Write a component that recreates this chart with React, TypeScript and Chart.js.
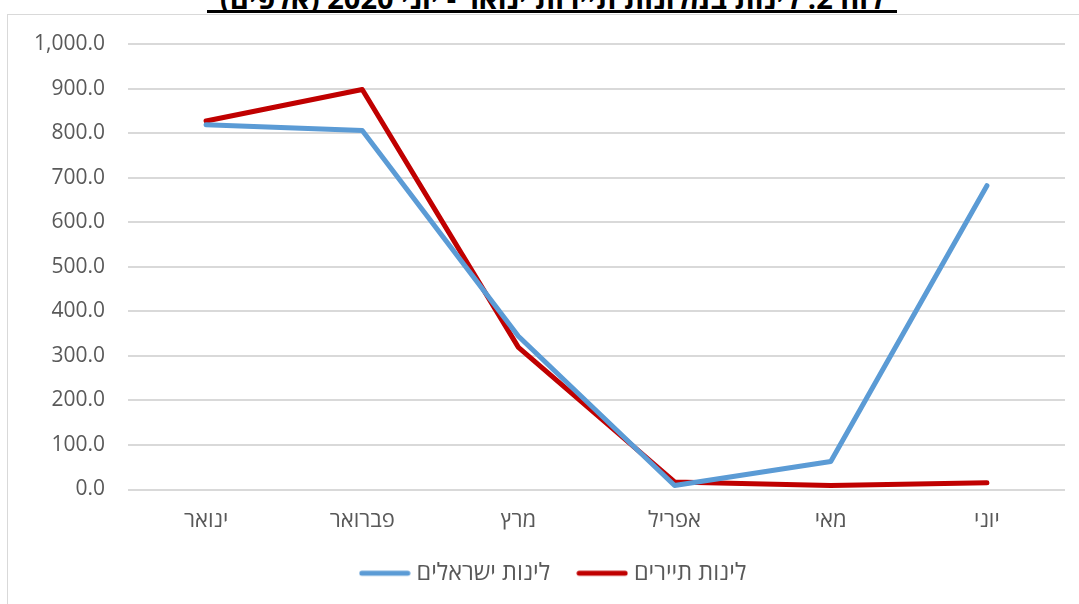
import React, { useEffect, useRef } from "react";
import { Chart, registerables } from "chart.js";

Chart.register(...registerables);

const title = "לוח 2: לינות במלונות תיירות ינואר - יוני 2020 (אלפים)";
const months = ["ינואר", "פברואר", "מרץ", "אפריל", "מאי", "יוני"];
const israelis = [819, 806, 344, 9, 63, 682];
const tourists = [827, 898, 319, 17, 9, 15];
const seriesNames = ["לינות ישראלים", "לינות תיירים"];
const seriesColors = ["#5b9bd5", "#c00000"];

const FONT = "'Open Sans', 'Liberation Sans', 'DejaVu Sans', sans-serif";

function legendLine(color: string): HTMLCanvasElement {
  const c = document.createElement("canvas");
  c.width = 52;
  c.height = 8;
  const g = c.getContext("2d")!;
  g.strokeStyle = color;
  g.lineWidth = 5;
  g.lineCap = "round";
  g.beginPath();
  g.moveTo(3, 4);
  g.lineTo(49, 4);
  g.stroke();
  return c;
}

const legendShift = {
  id: "legendShift",
  afterLayout(chart: any) {
    const lg = chart.legend;
    if (lg) {
      lg.left += 19;
      lg.right += 19;
    }
  },
};

export default function App() {
  const ref = useRef<HTMLCanvasElement | null>(null);

  useEffect(() => {
    document.body.style.margin = "0";
    const ctx = ref.current!;
    const mk = (i: number, data: number[]) => ({
      label: seriesNames[i],
      data,
      borderColor: seriesColors[i],
      backgroundColor: seriesColors[i],
      borderWidth: 5,
      pointRadius: 0,
      pointHoverRadius: 0,
      pointStyle: legendLine(seriesColors[i]),
      borderCapStyle: "round" as const,
      borderJoinStyle: "round" as const,
      tension: 0,
    });
    const chart = new Chart(ctx, {
      type: "line",
      data: {
        labels: months,
        datasets: [mk(0, israelis), mk(1, tourists)],
      },
      plugins: [legendShift],
      options: {
        animation: false,
        responsive: false,
        maintainAspectRatio: false,
        layout: { padding: { top: 29, bottom: 9, left: 0, right: 14 } },
        plugins: {
          legend: {
            position: "bottom",
            labels: {
              usePointStyle: true,
              pointStyleWidth: 40,
              boxHeight: 5,
              padding: 32,
              color: "#595959",
              font: { family: FONT, size: 23.5 },
            },
          },
          tooltip: { enabled: false },
        },
        scales: {
          x: {
            offset: true,
            grid: { display: false, drawTicks: false },
            border: { display: false },
            ticks: {
              color: "#595959",
              padding: 18,
              font: { family: FONT, size: 22 },
              maxRotation: 0,
            },
            afterFit: (s: any) => {
              s.height = 40;
              s.paddingLeft = 0;
              s.paddingRight = 0;
            },
          },
          y: {
            min: 0,
            max: 1000,
            grid: { color: "#d9d9d9", lineWidth: 2, drawTicks: false },
            border: { display: false },
            ticks: {
              stepSize: 100,
              color: "#595959",
              padding: 23,
              font: { family: FONT, size: 21 },
              callback: (v: any) =>
                Number(v).toLocaleString("en-US", {
                  minimumFractionDigits: 1,
                  maximumFractionDigits: 1,
                }),
            },
            afterFit: (s: any) => {
              s.width = 120;
              s.paddingTop = 0;
              s.paddingBottom = 0;
            },
          },
        },
      },
    });
    return () => chart.destroy();
  }, []);

  return (
    <div
      style={{
        position: "fixed",
        left: 0,
        top: 0,
        width: 1079,
        height: 604,
        overflow: "hidden",
        background: "#fff",
      }}
    >
      <div
        style={{
          position: "absolute",
          left: 7,
          top: 14,
          width: 1100,
          height: 620,
          border: "1px solid #d9d9d9",
          boxSizing: "border-box",
        }}
      />
      <div
        dir="rtl"
        style={{
          position: "absolute",
          left: 207,
          top: -14,
          width: 690,
          height: 24,
          lineHeight: "24px",
          fontFamily: FONT,
          fontWeight: "bold",
          fontSize: 29,
          color: "#000",
          textAlign: "center",
          whiteSpace: "nowrap",
          borderBottom: "3px solid #000",
          background: "#fff",
        }}
      >
        {title}
      </div>
      <canvas
        ref={ref}
        width={1071}
        height={589}
        style={{ position: "absolute", left: 8, top: 15, width: 1071, height: 589 }}
      />
    </div>
  );
}
